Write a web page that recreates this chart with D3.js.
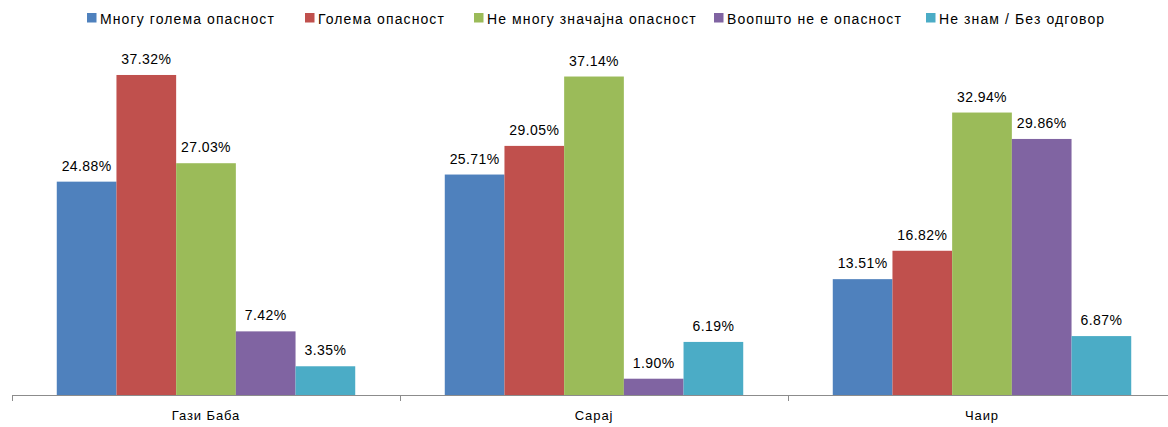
<!DOCTYPE html>
<html>
<head>
<meta charset="utf-8">
<script src="https://cdn.jsdelivr.net/npm/d3@7"></script>
<style>
  body { margin: 0; background: #fff; }
  text { font-family: "Liberation Sans", Arial, sans-serif; fill: #000; }
</style>
</head>
<body>
<div id="chart"></div>
<script>
// categories and series
var regions = ["Гази Баба", "Сарај", "Чаир"];
var seriesNames = ["Многу голема опасност", "Голема опасност", "Не многу значајна опасност", "Воопшто не е опасност", "Не знам / Без одговор"];
var veryBig = [24.88, 25.71, 13.51];
var big = [37.32, 29.05, 16.82];
var notSignificant = [27.03, 37.14, 32.94];
var notAtAll = [7.42, 1.90, 29.86];
var dontKnow = [3.35, 6.19, 6.87];
var colors = ["#4F81BD", "#C0504D", "#9BBB59", "#8064A2", "#4BACC6"];

var seriesValues = [veryBig, big, notSignificant, notAtAll, dontKnow];

var data = regions.map(function (r, i) {
  return {
    region: r,
    values: seriesNames.map(function (s, j) { return { key: s, value: seriesValues[j][i] }; })
  };
});

var width = 1168, height = 427;
var margin = { top: 52, left: 12, bottom: 32 };
var plotRight = 1176; // last band runs a bit off the window

var svg = d3.select("#chart")
  .append("svg")
  .attr("width", width)
  .attr("height", height);

// x scales
var x0 = d3.scaleBand()
  .domain(regions)
  .range([margin.left, plotRight])
  .paddingInner(0)
  .paddingOuter(0);

// gap width 150% of a bar -> 90px of 388 band
var x1 = d3.scaleBand()
  .domain(seriesNames)
  .range([0, x0.bandwidth()])
  .paddingInner(0)
  .paddingOuter(0.75);

var baseY = height - margin.bottom;
var y = d3.scaleLinear()
  .domain([0, 40])
  .range([baseY, margin.top]);

var color = d3.scaleOrdinal()
  .domain(seriesNames)
  .range(colors);

// bars
var groups = svg.append("g")
  .selectAll("g")
  .data(data)
  .enter().append("g")
  .attr("transform", function (d) { return "translate(" + x0(d.region) + ",0)"; });

groups.selectAll("rect")
  .data(function (d) { return d.values; })
  .enter().append("rect")
  .attr("x", function (d) { return x1(d.key); })
  .attr("y", function (d) { return y(d.value); })
  .attr("width", x1.bandwidth())
  .attr("height", function (d) { return baseY - y(d.value); })
  .attr("fill", function (d) { return color(d.key); });

// value labels
groups.selectAll("text.val")
  .data(function (d) { return d.values; })
  .enter().append("text")
  .attr("class", "val")
  .attr("x", function (d) { return x1(d.key) + x1.bandwidth() / 2; })
  .attr("y", function (d) { return y(d.value) - 11; })
  .attr("text-anchor", "middle")
  .style("font-size", "14px")
  .style("letter-spacing", "0.4px")
  .text(function (d) { return d.value.toFixed(2) + "%"; });

// x axis
var axis = svg.append("g")
  .attr("transform", "translate(0," + baseY + ")");

axis.append("line")
  .attr("x1", margin.left)
  .attr("x2", width)
  .attr("y1", 0.5)
  .attr("y2", 0.5)
  .attr("stroke", "#8c8c8c");

axis.selectAll("line.tick")
  .data(regions)
  .enter().append("line")
  .attr("class", "tick")
  .attr("x1", function (d) { return Math.round(x0(d)) + 0.5; })
  .attr("x2", function (d) { return Math.round(x0(d)) + 0.5; })
  .attr("y1", 0)
  .attr("y2", 6)
  .attr("stroke", "#8c8c8c");

axis.selectAll("text")
  .data(regions)
  .enter().append("text")
  .attr("x", function (d) { return x0(d) + x0.bandwidth() / 2; })
  .attr("y", 25)
  .attr("text-anchor", "middle")
  .style("font-size", "13px")
  .style("letter-spacing", "0.9px")
  .text(function (d) { return d; });

// legend
var legendX = [87, 305, 474, 714, 926];
var legend = svg.append("g")
  .selectAll("g")
  .data(seriesNames)
  .enter().append("g")
  .attr("transform", function (d, i) { return "translate(" + legendX[i] + ",13)"; });

legend.append("rect")
  .attr("width", 9.5)
  .attr("height", 9.5)
  .attr("fill", color);

legend.append("text")
  .attr("x", 13)
  .attr("y", 10.5)
  .style("font-size", "14px")
  .style("letter-spacing", "1.1px")
  .text(function (d) { return d; });
</script>
</body>
</html>
